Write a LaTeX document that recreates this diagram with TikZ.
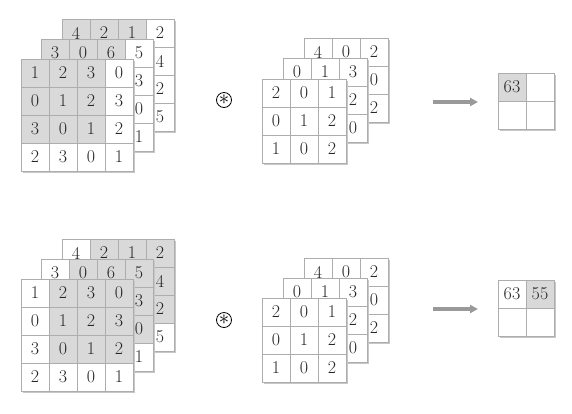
\documentclass[tikz,border=0pt]{standalone}
\usepackage{amsmath}
\usetikzlibrary{arrows.meta,positioning}

% one channel of a grid: name, left, top, width, height, rows
\newcommand{\gridlayer}[6]{%
  \fill[black!22] ({#2+1.8},{#3+1.8}) rectangle ({#2+#4+1.8},{#3+#5+1.8});
  \foreach \row [count=\r] in {#6} {
    \foreach \v/\s [count=\c] in \row {
      \node[cell\s] (#1-\r-\c) at ({#2+(\c-0.5)*28},{#3+(\r-0.5)*28}) {\v};
    }
  }
}

\begin{document}
\begin{tikzpicture}[
    x=1pt, y=-1pt,
    cellw/.style={draw=black!32,fill=white,line width=0.7pt,minimum size=28pt,inner sep=0pt,
      text=black!85,font=\fontsize{18}{20}\selectfont},
    cellg/.style={cellw,fill=black!15},
    conv/.style={draw,circle,line width=0.8pt,minimum size=15pt,inner sep=0pt,font=\fontsize{20}{20}\selectfont},
    arrow/.style={-{Triangle[length=8pt,width=8pt]},black!40,line width=3.6pt}
]
\path[use as bounding box] (0,0) rectangle (572,413);

% top row: first window
\gridlayer{a3}{62}{19}{112}{112}{{4/g,2/g,1/g,2/w},{/g,/g,/g,4/w},{/g,/g,/g,2/w},{/w,/w,/w,5/w}}
\gridlayer{a2}{41}{39}{112}{112}{{3/g,0/g,6/g,5/w},{/g,/g,/g,3/w},{/g,/g,/g,0/w},{/w,/w,/w,1/w}}
\gridlayer{a1}{21}{59}{112}{112}{{1/g,2/g,3/g,0/w},{0/g,1/g,2/g,3/w},{3/g,0/g,1/g,2/w},{2/w,3/w,0/w,1/w}}
\node[conv] (op1) at (224,100) {$\ast$};
\gridlayer{k3}{304}{38}{84}{84}{{4/w,0/w,2/w},{/w,/w,0/w},{/w,/w,2/w}}
\gridlayer{k2}{283}{58}{84}{84}{{0/w,1/w,3/w},{/w,/w,2/w},{/w,/w,0/w}}
\gridlayer{k1}{262}{79}{84}{84}{{2/w,0/w,1/w},{0/w,1/w,2/w},{1/w,0/w,2/w}}
\gridlayer{o1}{498}{73}{56}{56}{{63/g,/w},{/w,/w}}
\coordinate (s1) at (433,102);
\coordinate (t1) at (478,102);
\draw[arrow] (s1) -- (t1);

% bottom row: window moved one step right
\gridlayer{b3}{62}{239}{112}{112}{{4/w,2/g,1/g,2/g},{/w,/g,/g,4/g},{/w,/g,/g,2/g},{/w,/w,/w,5/w}}
\gridlayer{b2}{41}{259}{112}{112}{{3/w,0/g,6/g,5/g},{/w,/g,/g,3/g},{/w,/g,/g,0/g},{/w,/w,/w,1/w}}
\gridlayer{b1}{21}{279}{112}{112}{{1/w,2/g,3/g,0/g},{0/w,1/g,2/g,3/g},{3/w,0/g,1/g,2/g},{2/w,3/w,0/w,1/w}}
\node[conv] (op2) at (224,320) {$\ast$};
\gridlayer{m3}{304}{258}{84}{84}{{4/w,0/w,2/w},{/w,/w,0/w},{/w,/w,2/w}}
\gridlayer{m2}{283}{278}{84}{84}{{0/w,1/w,3/w},{/w,/w,2/w},{/w,/w,0/w}}
\gridlayer{m1}{262}{298}{84}{84}{{2/w,0/w,1/w},{0/w,1/w,2/w},{1/w,0/w,2/w}}
\gridlayer{o2}{498}{280}{56}{56}{{63/w,55/g},{/w,/w}}
\coordinate (s2) at (433,309);
\coordinate (t2) at (478,309);
\draw[arrow] (s2) -- (t2);
\end{tikzpicture}
\end{document}
